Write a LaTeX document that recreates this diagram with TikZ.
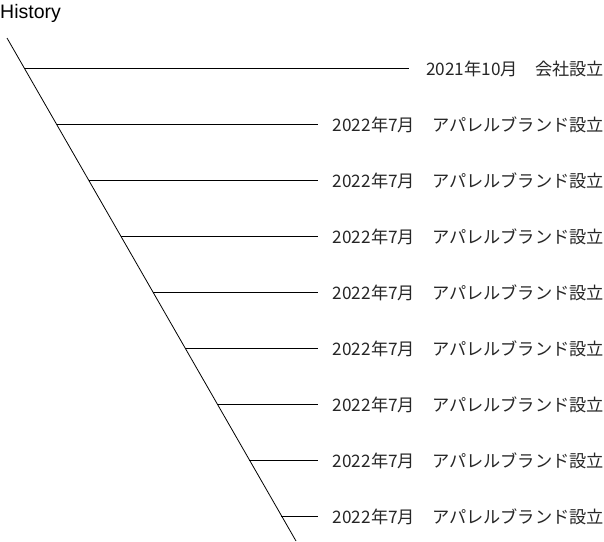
\documentclass[tikz,border=0pt]{standalone}
\usepackage{fontspec}
\setmainfont{Liberation Sans}
\newfontfamily\jpfont{Noto Sans CJK JP}
\usetikzlibrary{positioning}

\tikzset{
  entry/.style={anchor=east,inner sep=0pt,font=\jpfont\fontsize{17.2}{20}\selectfont,text=black!85},
  branch/.style={line width=0.8pt}
}

\begin{document}
\begin{tikzpicture}[x=1pt,y=-1pt]

\useasboundingbox (0,0) rectangle (604,541);

\node (title) at (0,13) [anchor=west,inner sep=0pt,font=\fontsize{19.5}{22}\selectfont] {History};

\coordinate (top) at (7,38);
\coordinate (bot) at (296,541);
\draw [branch] (top) -- (bot);

\coordinate (d1) at (25,68);
\coordinate (d2) at (57,124);
\coordinate (d3) at (89,180);
\coordinate (d4) at (121,236);
\coordinate (d5) at (153,292);
\coordinate (d6) at (185,348);
\coordinate (d7) at (217,404);
\coordinate (d8) at (249,460);
\coordinate (d9) at (281,516);

\node (t1) at (604,69) [entry] {2021年10月　会社設立};
\node (t2) at (604,125) [entry] {2022年7月　アパレルブランド設立};
\node (t3) at (604,181) [entry] {2022年7月　アパレルブランド設立};
\node (t4) at (604,237) [entry] {2022年7月　アパレルブランド設立};
\node (t5) at (604,293) [entry] {2022年7月　アパレルブランド設立};
\node (t6) at (604,349) [entry] {2022年7月　アパレルブランド設立};
\node (t7) at (604,405) [entry] {2022年7月　アパレルブランド設立};
\node (t8) at (604,461) [entry] {2022年7月　アパレルブランド設立};
\node (t9) at (604,517) [entry] {2022年7月　アパレルブランド設立};

\draw [branch] (d1) -- ([xshift=-17pt]t1.west |- d1);
\draw [branch] (d2) -- ([xshift=-15pt]t2.west |- d2);
\draw [branch] (d3) -- ([xshift=-15pt]t3.west |- d3);
\draw [branch] (d4) -- ([xshift=-15pt]t4.west |- d4);
\draw [branch] (d5) -- ([xshift=-15pt]t5.west |- d5);
\draw [branch] (d6) -- ([xshift=-15pt]t6.west |- d6);
\draw [branch] (d7) -- ([xshift=-15pt]t7.west |- d7);
\draw [branch] (d8) -- ([xshift=-15pt]t8.west |- d8);
\draw [branch] (d9) -- ([xshift=-15pt]t9.west |- d9);

\end{tikzpicture}
\end{document}
